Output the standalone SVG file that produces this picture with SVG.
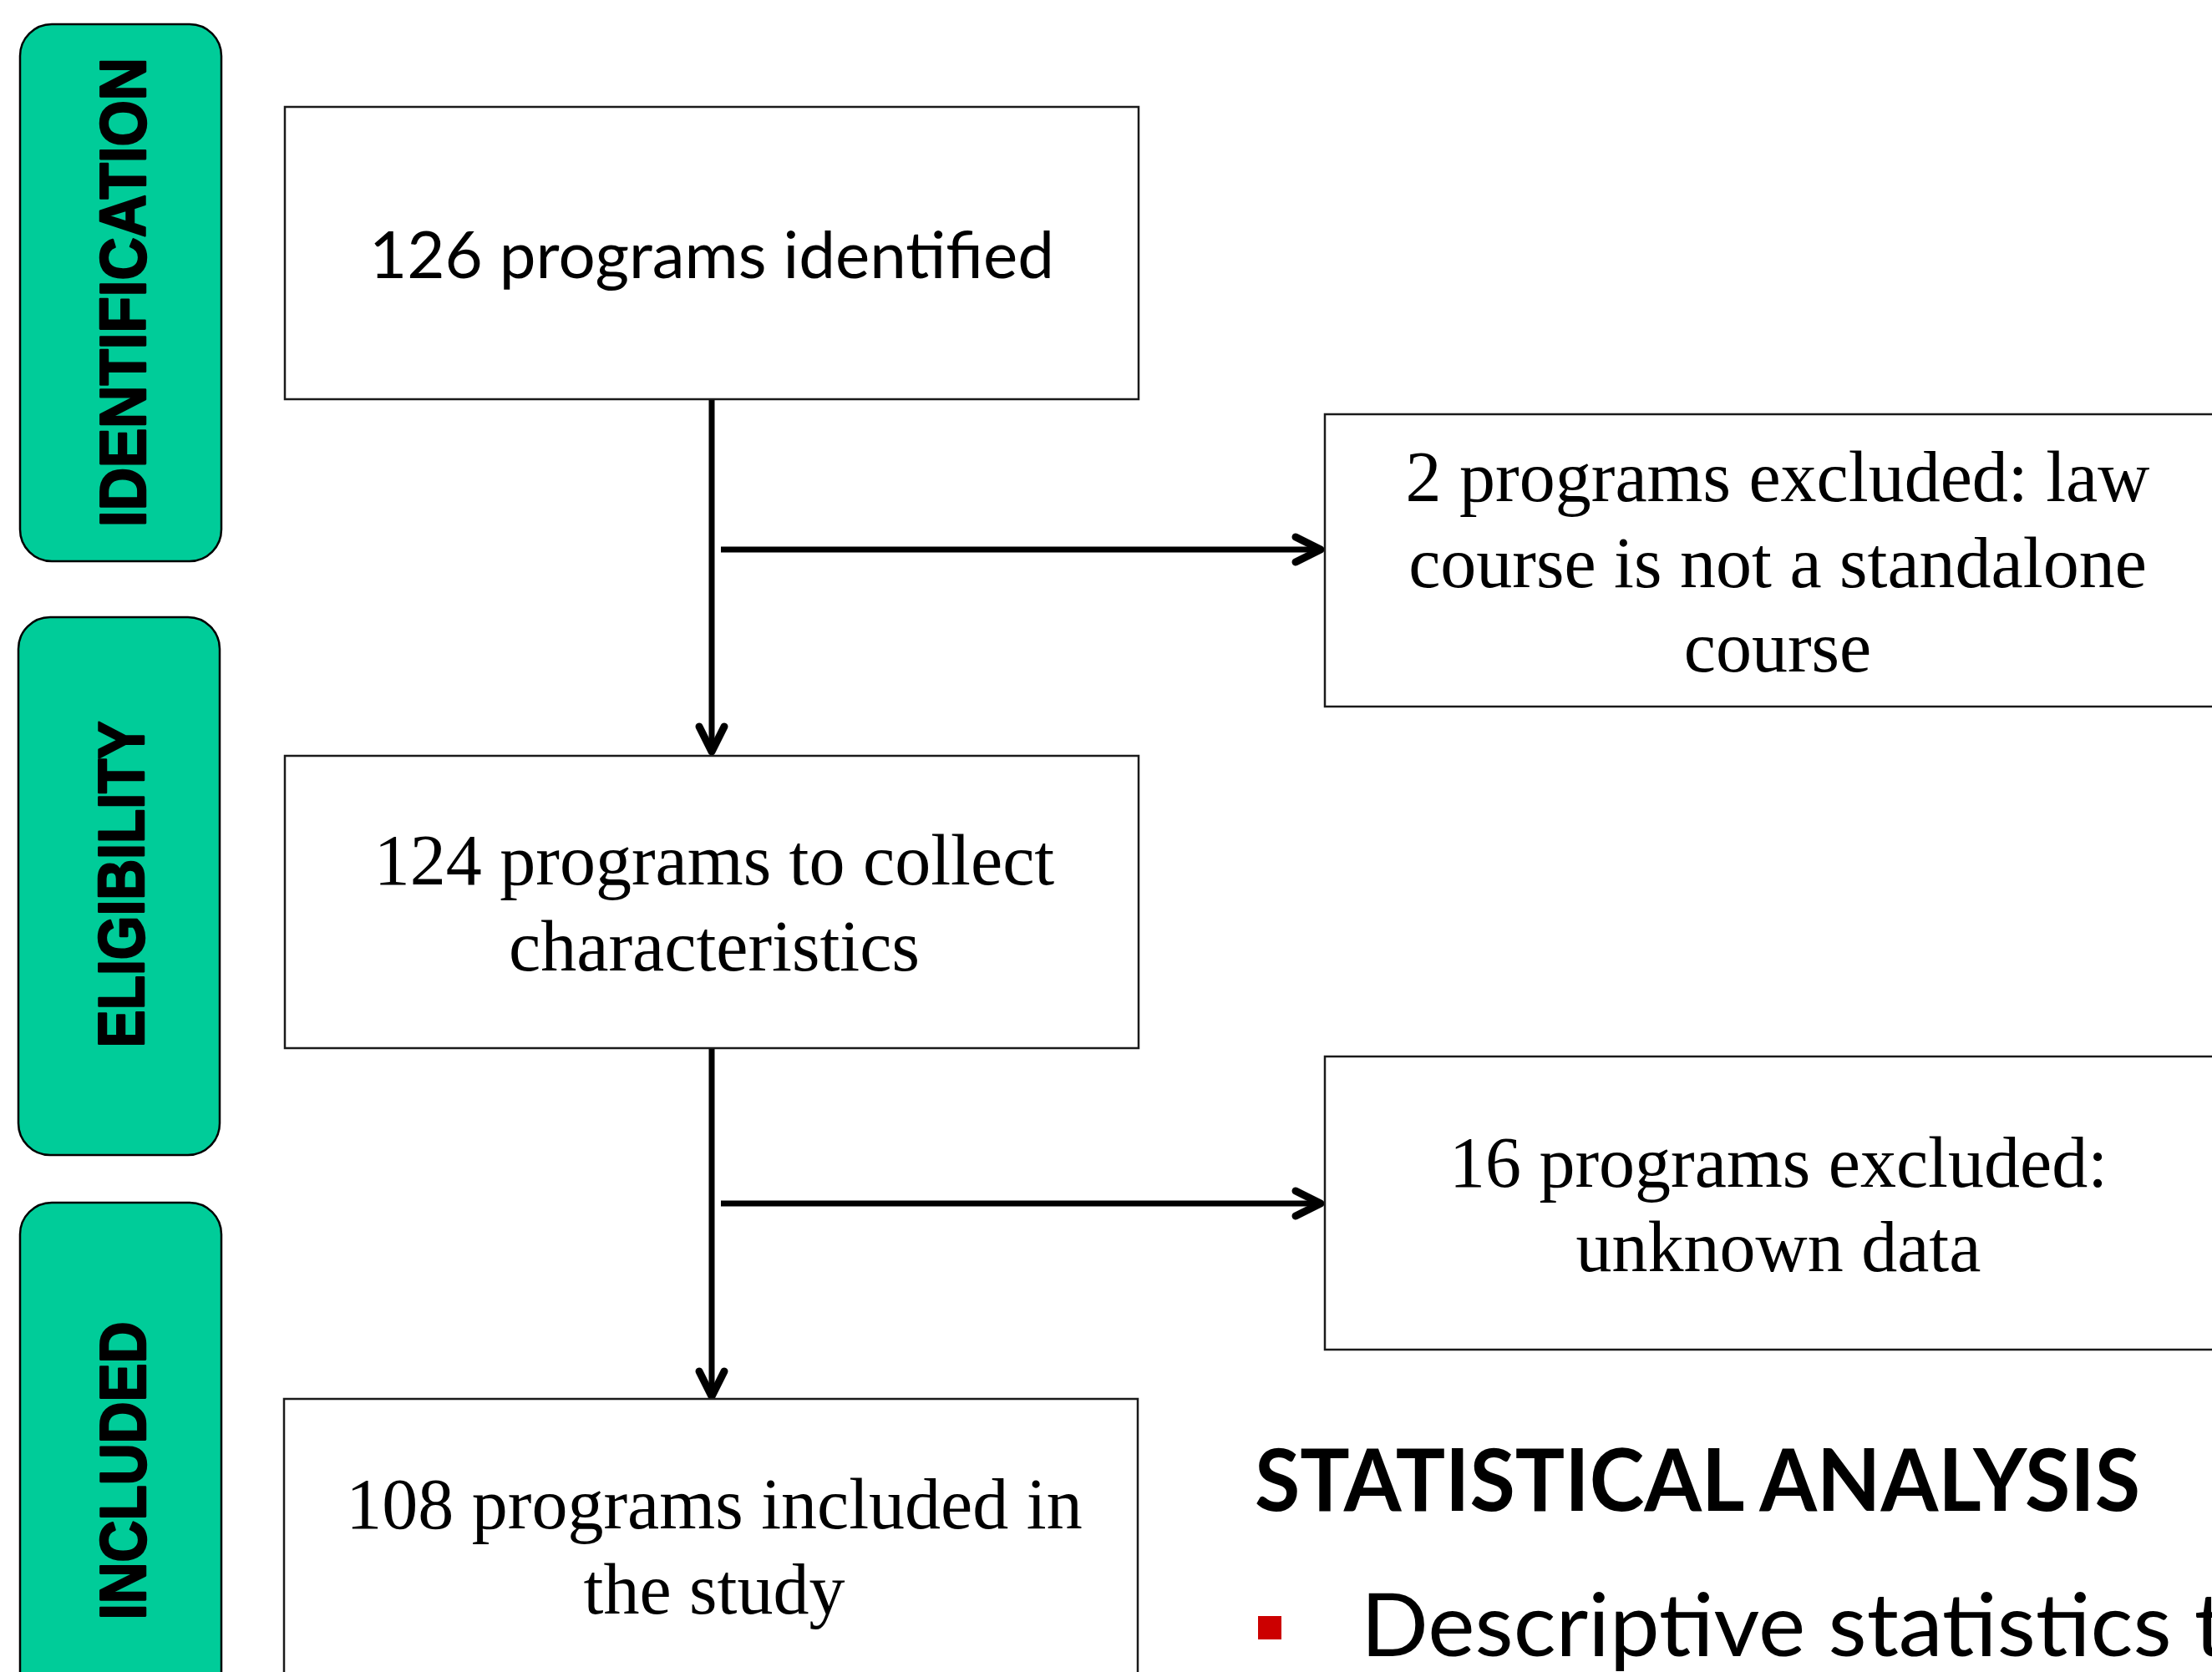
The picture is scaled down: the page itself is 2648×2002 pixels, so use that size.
<svg xmlns="http://www.w3.org/2000/svg" width="2648" height="2002" viewBox="0 0 2648 2002">
  <style>
    .pill { fill: #00CC99; stroke: #000000; stroke-width: 2.5; }
    .pilltxt { font-family: "Liberation Sans", Arial, sans-serif; font-weight: bold; font-size: 77px; fill: #000000; stroke: #000000; stroke-width: 2.5; stroke-linejoin: round; text-anchor: middle; }
    .box { fill: #FFFFFF; stroke: #1a1a1a; stroke-width: 2.5; }
    .serif { font-family: "Liberation Serif", "Times New Roman", serif; font-size: 86px; fill: #000000; text-anchor: middle; }
    .sans { font-family: Lato, "Open Sans", sans-serif; fill: #000000; }
    .conn { fill: none; stroke: #000000; stroke-width: 7; }
  </style>
  <defs>
    <marker id="arrow" markerUnits="userSpaceOnUse" viewBox="-40 -24 48 48" markerWidth="48" markerHeight="48" refX="0" refY="0" orient="auto">
      <path d="M -30,-15 L 0,0 L -30,15" fill="none" stroke="#000000" stroke-width="9" stroke-linecap="round" stroke-linejoin="round"/>
    </marker>
  </defs>
  <rect width="2648" height="2002" fill="#FFFFFF"/>

  <g id="phase-identification">
    <rect class="pill" x="24" y="29" width="241" height="643" rx="38" ry="38"/>
    <text class="pilltxt" transform="translate(174,350) rotate(-90)" textLength="562" lengthAdjust="spacingAndGlyphs">IDENTIFICATION</text>
  </g>
  <g id="phase-eligibility">
    <rect class="pill" x="22" y="739" width="241" height="644" rx="38" ry="38"/>
    <text class="pilltxt" transform="translate(172,1059) rotate(-90)" textLength="391" lengthAdjust="spacingAndGlyphs">ELIGIBILITY</text>
  </g>
  <g id="phase-included">
    <rect class="pill" x="24" y="1440" width="241" height="700" rx="38" ry="38"/>
    <text class="pilltxt" transform="translate(174,1761) rotate(-90)" textLength="357" lengthAdjust="spacingAndGlyphs">INCLUDED</text>
  </g>

  <g id="connectors">
    <path class="conn" d="M852,479 V900" marker-end="url(#arrow)"/>
    <path class="conn" d="M863,658 H1581" marker-end="url(#arrow)"/>
    <path class="conn" d="M852,1256 V1672" marker-end="url(#arrow)"/>
    <path class="conn" d="M863,1441 H1581" marker-end="url(#arrow)"/>
  </g>

  <g id="node-identified">
    <rect class="box" x="341" y="128" width="1022" height="350"/>
    <text class="sans" x="852" y="333" font-size="78" text-anchor="middle" textLength="820" lengthAdjust="spacingAndGlyphs">126 programs identified</text>
  </g>
  <g id="node-collect">
    <rect class="box" x="341" y="905" width="1022" height="350"/>
    <text class="serif" x="855" y="1059">124 programs to collect</text>
    <text class="serif" x="855" y="1162">characteristics</text>
  </g>
  <g id="node-included">
    <rect class="box" x="340" y="1675" width="1022" height="400"/>
    <text class="serif" x="855" y="1830">108 programs included in</text>
    <text class="serif" x="855" y="1932">the study</text>
  </g>
  <g id="node-excluded-law">
    <rect class="box" x="1586" y="496" width="1084" height="350"/>
    <text class="serif" x="2128" y="600">2 programs excluded: law</text>
    <text class="serif" x="2128" y="703">course is not a standalone</text>
    <text class="serif" x="2128" y="804">course</text>
  </g>
  <g id="node-excluded-unknown">
    <rect class="box" x="1586" y="1265" width="1084" height="351"/>
    <text class="serif" x="2129" y="1421">16 programs excluded:</text>
    <text class="serif" x="2129" y="1522">unknown data</text>
  </g>

  <g id="statistical-analysis">
    <text class="sans" x="1502" y="1809" font-size="103" font-weight="bold" textLength="1060" lengthAdjust="spacingAndGlyphs">STATISTICAL ANALYSIS</text>
    <rect x="1506" y="1935" width="28" height="28" fill="#CC0000"/>
    <text class="sans" x="1629" y="1983" font-size="104" textLength="1036" lengthAdjust="spacingAndGlyphs">Descriptive statistics t</text>
  </g>
</svg>
